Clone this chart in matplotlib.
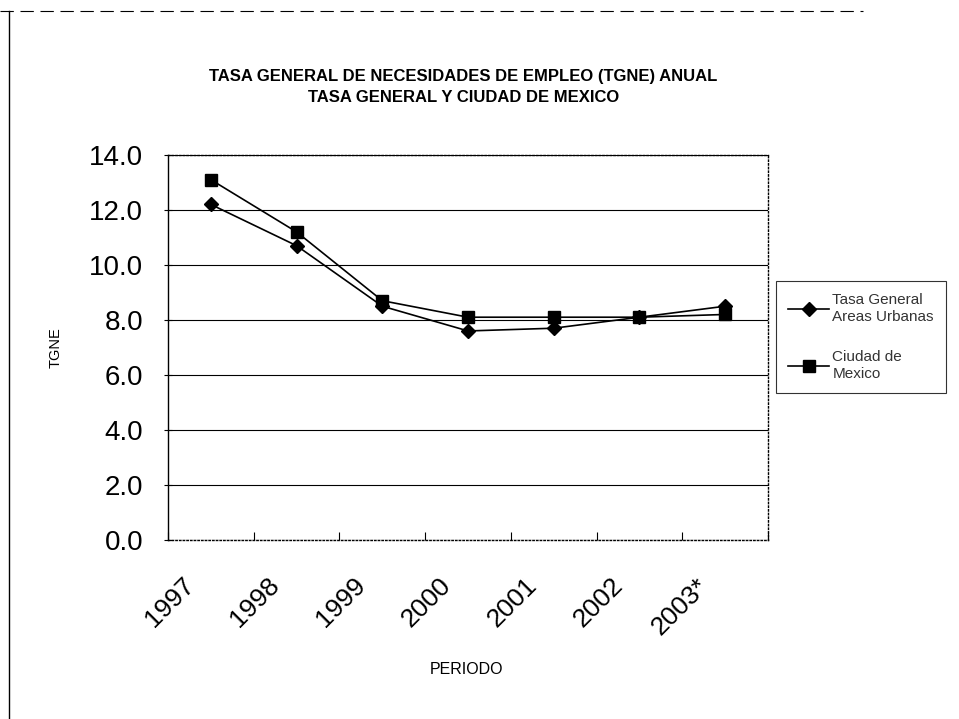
import matplotlib
matplotlib.use('Agg')
from matplotlib import pyplot as plt
from matplotlib.lines import Line2D
from matplotlib.transforms import ScaledTranslation

plt.rcParams['font.family'] = ['Liberation Sans', 'DejaVu Sans']

# datos
periodos = ['1997', '1998', '1999', '2000', '2001', '2002', '2003*']
tasa_general = [12.2, 10.7, 8.5, 7.6, 7.7, 8.1, 8.5]
ciudad_mexico = [13.1, 11.2, 8.7, 8.1, 8.1, 8.1, 8.2]
y_ticks = [0, 2, 4, 6, 8, 10, 12, 14]

fig = plt.figure(figsize=(9.59, 7.19), dpi=100)
ax = fig.add_axes([0.1752, 0.2490, 0.6257, 0.5355])

x = [i + 0.5 for i in range(len(periodos))]
ax.plot(x, tasa_general, color='black', lw=1.2, marker='D', ms=7,
        label='Tasa General\nAreas Urbanas')
ax.plot(x, ciudad_mexico, color='black', lw=1.2, marker='s', ms=8,
        label='Ciudad de\nMexico')

ax.set_xlim(0, len(periodos))
ax.set_ylim(0, 14)
ax.set_yticks(y_ticks)
ax.set_yticklabels(['%.1f' % v for v in y_ticks], fontsize=20)
ax.set_xticks(range(len(periodos) + 1))
ax.set_xticklabels([])
ax.set_xticks(x, minor=True)
ax.set_xticklabels(periodos, minor=True, rotation=45, ha='right',
                   rotation_mode='anchor', fontsize=19)
ax.tick_params(axis='x', which='minor', length=0, pad=24)
ax.tick_params(axis='x', which='major', length=6, direction='in', width=0.8)
ax.tick_params(axis='y', length=6, direction='inout', width=0.8, pad=15)

# desplazar las etiquetas giradas un poco a la izquierda (como en Excel)
offset = ScaledTranslation(-29 / 100, 0, fig.dpi_scale_trans)
for lbl in ax.get_xticklabels(minor=True):
    lbl.set_transform(lbl.get_transform() + offset)

# lineas de division
ax.grid(axis='y', color='black', lw=0.8)
ax.set_axisbelow(True)
ax.spines['left'].set_linewidth(1)
for s in ['top', 'right', 'bottom']:
    ax.spines[s].set_linestyle(':')
    ax.spines[s].set_linewidth(1)

ax.set_ylabel('TGNE', fontsize=10.5)
ax.yaxis.set_label_coords(-0.175, 0.5)
ax.set_xlabel('PERIODO', fontsize=11.5)
ax.xaxis.set_label_coords(0.497, -0.317)

fig.text(0.483, 0.893, 'TASA GENERAL DE NECESIDADES DE EMPLEO (TGNE) ANUAL',
         ha='center', va='center', fontsize=12, fontweight='bold')
fig.text(0.483, 0.865, 'TASA GENERAL Y CIUDAD DE MEXICO',
         ha='center', va='center', fontsize=12, fontweight='bold')

leg = ax.legend(loc='upper left', bbox_to_anchor=(1.013, 0.672), fontsize=11,
                frameon=True, fancybox=False, edgecolor='black',
                handlelength=2.7, handletextpad=0.2, labelspacing=1.75,
                borderpad=0.8, borderaxespad=0)
leg.get_frame().set_linewidth(0.8)
for t in leg.get_texts():
    t.set_color('#333333')

# marco del escaneo
fig.add_artist(Line2D([0.009, 0.009], [0.0, 0.985], color='black', lw=1))
fig.add_artist(Line2D([0.0, 0.9], [0.985, 0.985], color='black', lw=0.8, ls=(0, (12, 6))))

plt.savefig('out.png', dpi=100)
